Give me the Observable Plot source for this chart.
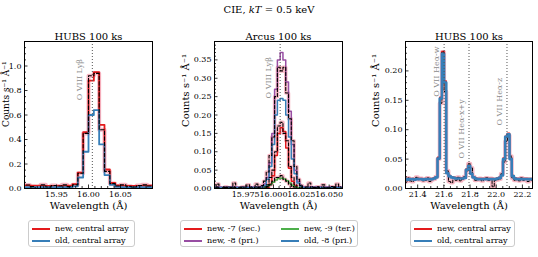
<!DOCTYPE html>
<html><head><meta charset="utf-8">
<script src="https://cdn.jsdelivr.net/npm/d3@7"></script>
<script src="https://cdn.jsdelivr.net/npm/@observablehq/plot@0.6"></script>
<style>
body{margin:0;background:#fff;}
#root{position:relative;width:538px;height:257px;overflow:hidden;font-family:"DejaVu Serif",serif;color:#000;}
.panel{position:absolute;top:20px;}
.sup{position:absolute;left:0;width:538px;text-align:center;top:4px;font-size:10px;line-height:12px;white-space:nowrap;}
.legend{position:absolute;top:220px;height:27px;border:1px solid #cccccc;border-radius:3px;background:#fff;font-size:8px;box-sizing:border-box;}
.entry{position:absolute;height:10px;line-height:10px;white-space:nowrap;}
.sw{position:absolute;height:2px;}
</style></head><body><div id="root"></div><script>
// ---------- Panel 1: HUBS 100 ks, O VIII Ly-beta ----------
const hubsOviiiWave = [15.8958,15.9042,15.9125,15.9208,15.9292,15.9375,15.9458,15.9542,15.9625,15.9708,15.9792,15.9875,15.9958,16.0042,16.0125,16.0208,16.0292,16.0375,16.0458,16.0542,16.0625,16.0708,16.0792,16.0875,16.0958,16.1042];
const hubsOviiiNew  = [0.025,0.025,0.024,0.023,0.022,0.022,0.022,0.021,0.022,0.024,0.035,0.13,0.46,0.88,0.95,0.52,0.155,0.045,0.026,0.024,0.022,0.021,0.022,0.023,0.024,0.024];
const hubsOviiiOld  = [0.012,0.012,0.011,0.011,0.011,0.011,0.011,0.011,0.012,0.012,0.018,0.09,0.30,0.60,0.64,0.36,0.11,0.03,0.013,0.012,0.011,0.011,0.011,0.012,0.012,0.012];
const hubsOviiiData = [0.02,0.028,0.015,0.0,0.03,0.012,0.025,0.02,0.03,0.015,0.03,0.125,0.45,0.92,0.94,0.48,0.14,0.04,0.02,0.03,0.018,0.012,0.025,0.03,0.02,0.02];
const p1XTicks = [15.95,16.00,16.05];
const p1XMinor = [15.91,15.92,15.93,15.94,15.96,15.97,15.98,15.99,16.01,16.02,16.03,16.04,16.06,16.07,16.08,16.09];
const p1YTicks = [0,0.2,0.4,0.6,0.8,1.0];
const p1YMinor = [0.05,0.1,0.15,0.25,0.3,0.35,0.45,0.5,0.55,0.65,0.7,0.75,0.85,0.9,0.95,1.05,1.1,1.15];
const p1Lines = [16.006];
const p1LineNames = ["O VIII Lyβ"];

// ---------- Panel 2: Arcus 100 ks ----------
const arcusWave = [15.94475,15.94725,15.94975,15.95225,15.95475,15.95725,15.95975,15.96225,15.96475,15.96725,15.96975,15.97225,15.97475,15.97725,15.97975,15.98225,15.98475,15.98725,15.98975,15.99225,15.99475,15.99725,15.99975,16.00225,16.00475,16.00725,16.00975,16.01225,16.01475,16.01725,16.01975,16.02225,16.02475,16.02725,16.02975,16.03225,16.03475,16.03725,16.03975,16.04225,16.04475,16.04725,16.04975,16.05225,16.05475,16.05725,16.05975,16.06225,16.06475];
const arcusNewSec = [0.002,0.002,0.002,0.002,0.002,0.002,0.002,0.002,0.002,0.002,0.002,0.002,0.002,0.002,0.002,0.002,0.002,0.002,0.002,0.002,0.002,0.012,0.035,0.09,0.15,0.165,0.155,0.11,0.055,0.02,0.008,0.002,0.002,0.002,0.002,0.002,0.002,0.002,0.002,0.002,0.002,0.002,0.002,0.002,0.002,0.002,0.002,0.002,0.002];
const arcusNewPri = [0.004,0.004,0.005,0.004,0.003,0.004,0.004,0.005,0.004,0.004,0.003,0.004,0.004,0.004,0.005,0.004,0.004,0.005,0.006,0.012,0.03,0.07,0.15,0.27,0.35,0.37,0.35,0.29,0.21,0.12,0.05,0.02,0.008,0.004,0.004,0.004,0.005,0.004,0.004,0.004,0.003,0.004,0.004,0.005,0.004,0.004,0.004,0.004,0.004];
const arcusNewTer = [0.001,0.001,0.001,0.001,0.001,0.001,0.001,0.001,0.001,0.001,0.001,0.001,0.001,0.001,0.001,0.001,0.001,0.001,0.001,0.003,0.006,0.011,0.017,0.023,0.027,0.028,0.026,0.021,0.015,0.009,0.005,0.002,0.001,0.001,0.001,0.001,0.001,0.001,0.001,0.001,0.001,0.001,0.001,0.001,0.001,0.001,0.001,0.001,0.001];
const arcusOldPri = [0.003,0.003,0.003,0.003,0.003,0.003,0.003,0.003,0.003,0.003,0.003,0.003,0.003,0.003,0.003,0.003,0.003,0.003,0.003,0.008,0.025,0.06,0.12,0.20,0.24,0.245,0.24,0.20,0.14,0.08,0.04,0.015,0.006,0.003,0.003,0.003,0.003,0.003,0.003,0.003,0.003,0.003,0.003,0.003,0.003,0.003,0.003,0.003,0.003];
const arcusDataPri = [0,0.003,0.012,0,0.002,0.004,0,0.003,0.015,0,0.002,0,0.004,0.01,0,0.003,0.012,0.004,0.008,0.02,0.045,0.09,0.14,0.25,0.33,0.32,0.33,0.26,0.19,0.13,0.06,0.025,0.008,0,0.004,0.015,0,0.003,0.004,0,0.01,0,0.002,0.005,0.004,0.012,0,0.003,0];
const arcusDataSec = [0,0,0.002,0,0,0.003,0,0,0.002,0,0,0.004,0,0,0.002,0,0,0.003,0,0.004,0.01,0.03,0.05,0.10,0.17,0.18,0.15,0.13,0.06,0.03,0.01,0,0.003,0,0,0.002,0,0,0.004,0,0,0.002,0,0,0.003,0,0,0.002,0];
const arcusDataTer = [0,0,0,0,0,0,0,0,0,0,0,0,0,0,0,0,0,0,0,0,0.005,0.01,0.02,0.03,0.03,0.035,0.025,0.02,0.012,0.005,0,0,0,0,0,0,0,0,0,0,0,0,0,0,0,0,0,0,0];
const p2XTicks = [15.975,16.000,16.025,16.050];
const p2XMinor = [15.95,15.955,15.96,15.965,15.97,15.98,15.985,15.99,15.995,16.005,16.01,16.015,16.02,16.03,16.035,16.04,16.045,16.055,16.06];
const p2YTicks = [0,0.05,0.10,0.15,0.20,0.25,0.30,0.35];
const p2YMinor = [0.01,0.02,0.03,0.04,0.06,0.07,0.08,0.09,0.11,0.12,0.13,0.14,0.16,0.17,0.18,0.19,0.21,0.22,0.23,0.24,0.26,0.27,0.28,0.29,0.31,0.32,0.33,0.34,0.36,0.37,0.38,0.39];
const p2Lines = [16.006];
const p2LineNames = ["O VIII Lyβ"];

// ---------- Panel 3: HUBS 100 ks, O VII He-alpha ----------
const hubsOviiWave = [21.2933,21.31,21.3267,21.3433,21.36,21.3767,21.3933,21.41,21.4267,21.4433,21.46,21.4767,21.4933,21.51,21.5267,21.5433,21.56,21.5767,21.5933,21.61,21.6267,21.6433,21.66,21.6767,21.6933,21.71,21.7267,21.7433,21.76,21.7767,21.7933,21.81,21.8267,21.8433,21.86,21.8767,21.8933,21.91,21.9267,21.9433,21.96,21.9767,21.9933,22.01,22.0267,22.0433,22.06,22.0767,22.0933,22.11,22.1267,22.1433,22.16,22.1767,22.1933,22.21,22.2267,22.2433,22.26,22.2767,22.2933];
const hubsOviiNew = [0.017,0.017,0.016,0.017,0.017,0.016,0.017,0.017,0.017,0.016,0.017,0.017,0.017,0.017,0.018,0.02,0.053,0.155,0.233,0.183,0.027,0.022,0.02,0.019,0.018,0.018,0.018,0.018,0.019,0.033,0.039,0.026,0.02,0.018,0.017,0.017,0.017,0.017,0.017,0.017,0.017,0.017,0.017,0.018,0.019,0.023,0.052,0.089,0.094,0.051,0.022,0.018,0.017,0.017,0.017,0.017,0.017,0.017,0.017,0.017,0.017];
const hubsOviiOld = [0.016,0.016,0.015,0.016,0.016,0.015,0.016,0.016,0.016,0.015,0.016,0.016,0.016,0.016,0.017,0.019,0.051,0.153,0.229,0.180,0.026,0.021,0.019,0.018,0.017,0.017,0.017,0.017,0.018,0.032,0.038,0.025,0.019,0.017,0.016,0.016,0.016,0.016,0.016,0.016,0.016,0.016,0.016,0.017,0.018,0.022,0.050,0.088,0.092,0.050,0.021,0.017,0.016,0.016,0.016,0.016,0.016,0.016,0.016,0.016,0.016];
const hubsOviiData = [0.014,0.012,0.018,0.013,0.012,0.016,0.019,0.015,0.017,0.013,0.014,0.018,0.012,0.015,0.016,0.02,0.05,0.145,0.232,0.165,0.03,0.012,0.01,0.017,0.014,0.019,0.013,0.016,0.02,0.03,0.042,0.035,0.02,0.014,0.015,0.017,0.013,0.016,0.018,0.014,0.017,0.003,0.014,0.015,0.016,0.025,0.045,0.08,0.09,0.055,0.018,0.014,0.016,0.013,0.018,0.014,0.016,0.012,0.015,0.014,0.014];
const p3XTicks = [21.4,21.6,21.8,22.0,22.2];
const p3XMinor = [21.35,21.45,21.5,21.55,21.65,21.7,21.75,21.85,21.9,21.95,22.05,22.1,22.15,22.25];
const p3YTicks = [0,0.05,0.10,0.15,0.20];
const p3YMinor = [0.01,0.02,0.03,0.04,0.06,0.07,0.08,0.09,0.11,0.12,0.13,0.14,0.16,0.17,0.18,0.19,0.21,0.22,0.23,0.24];
const p3Lines = [21.602,21.792,22.082];
const p3LineNames = ["O VII Heα-w","O VII Heα-x+y","O VII Heα-z"];

// ---------- legends ----------
const legend1Labels = ["new, central array","old, central array"];
const legend2Labels = ["new, -7 (sec.)","new, -8 (pri.)","new, -9 (ter.)","old, -8 (pri.)"];
const legend3Labels = ["new, central array","old, central array"];

const RED="#e41a1c", BLUE="#377eb8", PURPLE="#984ea3", GREEN="#4daf4a", PINK="#f7b7c4";
const H=195, MT=21, MB=27;

function stepLine(xs, ys, opts){
  return Plot.line(ys, {x: xs, y: d=>d, curve:"step", clip:true, ...opts});
}
function frameMarks(c){
  const fw=c.width-c.ml-c.mr, fh=H-MT-MB;
  return [
    Plot.ruleX(c.lines, {stroke:"#555", strokeDasharray:"1,2", strokeWidth:1}),
    Plot.tickX(c.xMinor, {x:d=>d, insetTop:fh-2, stroke:"#000", strokeWidth:0.8}),
    Plot.tickX(c.xTicks, {x:d=>d, insetTop:fh-3.5, stroke:"#000", strokeWidth:0.8}),
    Plot.tickY(c.yMinor, {y:d=>d, insetRight:fw-2, stroke:"#000", strokeWidth:0.8}),
    Plot.tickY(c.yTicks, {y:d=>d, insetRight:fw-3.5, stroke:"#000", strokeWidth:0.8}),
    Plot.axisX(c.xTicks, {tickSize:0, tickPadding:2.5, tickFormat:c.xFmt, label:null}),
    Plot.axisY(c.yTicks, {tickSize:0, tickPadding:3, tickFormat:c.yFmt, label:null}),
    Plot.frame({stroke:"#000", strokeWidth:1}),
    Plot.text([c.title], {text:d=>d, frameAnchor:"top", dy:-9, fontSize:10}),
    Plot.text(["Wavelength (Å)"], {text:d=>d, frameAnchor:"bottom", dy:20, fontSize:10}),
    Plot.text(["Counts s⁻¹ Å⁻¹"], {text:d=>d, frameAnchor:"left", dx:c.ylDx, dy:12, rotate:-90, fontSize:c.ylSize})
  ];
}
function makePanel(c, dataMarks, labelMark){
  const svg = Plot.plot({
    width:c.width, height:H, marginTop:MT, marginBottom:MB, marginLeft:c.ml, marginRight:c.mr,
    x:{domain:c.xDomain}, y:{domain:c.yDomain},
    style:{fontFamily:"DejaVu Serif", fontSize:"8px", background:"transparent", overflow:"visible", color:"#000"},
    marks:[...dataMarks, labelMark, ...frameMarks(c)]
  });
  const div=document.createElement("div");
  div.className="panel"; div.style.left=c.left+"px";
  div.appendChild(svg);
  document.getElementById("root").appendChild(div);
}

const root=document.getElementById("root");
const sup=document.createElement("div");
sup.className="sup"; sup.innerHTML="CIE, <i>kT</i> = 0.5 keV";
root.appendChild(sup);

// Panel 1
const c1={left:0,width:175,ml:24,mr:23,xDomain:[15.9,16.1],yDomain:[0,1.2],xTicks:p1XTicks,xMinor:p1XMinor,yTicks:p1YTicks,yMinor:p1YMinor,
  xFmt:d=>d.toFixed(2), yFmt:d=>d.toFixed(1), title:"HUBS 100 ks", ylDx:-18.5, ylSize:9, lines:p1Lines};
makePanel(c1,[
  stepLine(hubsOviiiWave,hubsOviiiData,{stroke:PINK,strokeWidth:4}),
  stepLine(hubsOviiiWave,hubsOviiiNew,{stroke:RED,strokeWidth:1.8}),
  stepLine(hubsOviiiWave,hubsOviiiOld,{stroke:BLUE,strokeWidth:1.8}),
  stepLine(hubsOviiiWave,hubsOviiiData,{stroke:"#000",strokeWidth:1.1,strokeDasharray:"3.5,2"})
], Plot.text(p1LineNames,{text:d=>d,x:p1Lines,y:[0.72],rotate:-90,textAnchor:"start",dx:-13,fill:"#8a8a8a",fontSize:8}));

// Panel 2
const c2={left:175,width:175,ml:39,mr:8,xDomain:[15.947,16.062],yDomain:[0,0.4],xTicks:p2XTicks,xMinor:p2XMinor,yTicks:p2YTicks,yMinor:p2YMinor,
  xFmt:d=>d.toFixed(3), yFmt:d=>d.toFixed(2), title:"Arcus 100 ks", ylDx:-29, ylSize:10, lines:p2Lines};
makePanel(c2,[
  stepLine(arcusWave,arcusDataPri,{stroke:PINK,strokeWidth:3.5}),
  stepLine(arcusWave,arcusDataSec,{stroke:PINK,strokeWidth:3.5}),
  stepLine(arcusWave,arcusDataTer,{stroke:PINK,strokeWidth:3.5}),
  stepLine(arcusWave,arcusNewSec,{stroke:RED,strokeWidth:1.5}),
  stepLine(arcusWave,arcusNewPri,{stroke:PURPLE,strokeWidth:1.5}),
  stepLine(arcusWave,arcusNewTer,{stroke:GREEN,strokeWidth:1.5}),
  stepLine(arcusWave,arcusOldPri,{stroke:BLUE,strokeWidth:1.5}),
  stepLine(arcusWave,arcusDataPri,{stroke:"#000",strokeWidth:1.1,strokeDasharray:"3,2"}),
  stepLine(arcusWave,arcusDataSec,{stroke:"#000",strokeWidth:1.1,strokeDasharray:"3,2"}),
  stepLine(arcusWave,arcusDataTer,{stroke:"#000",strokeWidth:1.1,strokeDasharray:"3,2"})
], Plot.text(p2LineNames,{text:d=>d,x:p2Lines,y:[0.245],rotate:-90,textAnchor:"start",dx:-12,fill:"#8a8a8a",fontSize:8}));

// Panel 3
const c3={left:360,width:178,ml:45,mr:6,xDomain:[21.307,22.277],yDomain:[0,0.25],xTicks:p3XTicks,xMinor:p3XMinor,yTicks:p3YTicks,yMinor:p3YMinor,
  xFmt:d=>d.toFixed(1), yFmt:d=>d.toFixed(2), title:"HUBS 100 ks", ylDx:-30, ylSize:10, lines:p3Lines};
makePanel(c3,[
  stepLine(hubsOviiWave,hubsOviiData,{stroke:PINK,strokeWidth:4}),
  stepLine(hubsOviiWave,hubsOviiNew,{stroke:RED,strokeWidth:1.5}),
  stepLine(hubsOviiWave,hubsOviiData,{stroke:"#000",strokeWidth:1,strokeDasharray:"3,1.5"}),
  stepLine(hubsOviiWave,hubsOviiOld,{stroke:BLUE,strokeWidth:2.6})
], Plot.text(p3LineNames,{text:d=>d,x:p3Lines,y:[0.156,0.051,0.107],rotate:-90,textAnchor:"start",dx:-7.5,fill:"#8a8a8a",fontSize:8}));

// Legends (HTML)
function legend(left,width,labels,colors,colOffset,rows){
  const box=document.createElement("div");
  box.className="legend"; box.style.left=left+"px"; box.style.width=width+"px";
  labels.forEach((lab,i)=>{
    const col=Math.floor(i/rows), row=i%rows;
    const cy=8+row*11.7;
    const sw=document.createElement("div");
    sw.className="sw"; sw.style.left=(3+col*colOffset)+"px"; sw.style.width="18px";
    sw.style.top=(cy-1)+"px"; sw.style.background=colors[i];
    const t=document.createElement("div");
    t.className="entry"; t.style.left=(26+col*colOffset)+"px"; t.style.top=(cy-5)+"px";
    t.textContent=lab;
    box.appendChild(sw); box.appendChild(t);
  });
  root.appendChild(box);
}
legend(28,107,legend1Labels,[RED,BLUE],0,2);
legend(180,178,legend2Labels,[RED,PURPLE,GREEN,BLUE],97,2);
legend(410,105,legend3Labels,[RED,BLUE],0,2);
</script></body></html>
